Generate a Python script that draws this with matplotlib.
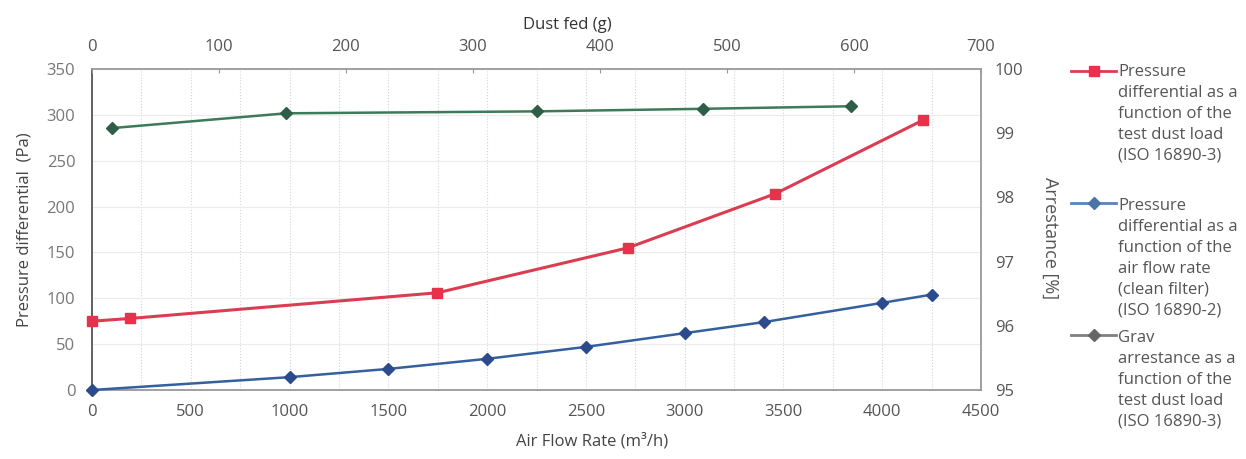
import matplotlib
matplotlib.use("Agg")
import matplotlib.pyplot as plt
from matplotlib.lines import Line2D
from matplotlib.ticker import MultipleLocator

plt.rcParams['font.family'] = ['Open Sans', 'DejaVu Sans']

W, H = 1246, 459

# pressure differential vs test dust load (top axis, left axis)
dust_fed = [0, 30, 272, 422, 538, 654]
dp_dust = [75, 78, 106, 155, 214, 294]

# pressure differential vs air flow rate, clean filter (bottom axis, left axis)
air_flow = [0, 1000, 1500, 2000, 2500, 3000, 3400, 4000, 4250]
dp_flow = [0, 14, 23, 34, 47, 62, 74, 95, 104]

# grav arrestance vs test dust load (top axis, right axis)
dust_grav = [16, 153, 350, 481, 598]
arrestance = [99.08, 99.31, 99.34, 99.38, 99.42]

legend_texts = [
    "Pressure\ndifferential as a\nfunction of the\ntest dust load\n(ISO 16890-3)",
    "Pressure\ndifferential as a\nfunction of the\nair flow rate\n(clean filter)\n(ISO 16890-2)",
    "Grav\narrestance as a\nfunction of the\ntest dust load\n(ISO 16890-3)",
]

RED, RED_M = "#dc3c50", "#e6324a"
BLUE, BLUE_M = "#34609e", "#2b4b8c"
GREEN, GREEN_M = "#3c7a5a", "#2f5e48"


def fx(px):
    return px / W


def fy(py):
    return 1 - py / H


fig = plt.figure(figsize=(W / 100, H / 100), dpi=100)
ax = fig.add_axes([fx(92), fy(390), (981 - 92) / W, (390 - 69) / H])
ax_top = ax.twiny()
ax_r = ax_top.twinx()

ax.set_xlim(0, 4500)
ax.set_ylim(0, 350)
ax_top.set_xlim(0, 700)
ax_r.set_ylim(95, 100)

ax.xaxis.set_major_locator(MultipleLocator(500))
ax.xaxis.set_minor_locator(MultipleLocator(250))
ax.yaxis.set_major_locator(MultipleLocator(50))
ax_top.xaxis.set_major_locator(MultipleLocator(100))
ax_r.yaxis.set_major_locator(MultipleLocator(1))

# faint grid
ax.grid(which='major', axis='y', color='#ececec', lw=0.8)
ax.grid(which='minor', axis='x', color='#d4d4d4', lw=0.8, ls=':')
ax.grid(which='major', axis='x', color='#d4d4d4', lw=0.8, ls=':')
ax.set_axisbelow(True)

# series
ax.plot(air_flow, dp_flow, color=BLUE, lw=1.8, marker='D', ms=6.5,
        mfc=BLUE_M, mec=BLUE_M, clip_on=False, zorder=3)
ax_top.plot(dust_fed, dp_dust, color=RED, lw=2.2, marker='s', ms=7.5,
            mfc=RED_M, mec=RED_M, clip_on=False, zorder=3)
ax_r.plot(dust_grav, arrestance, color=GREEN, lw=1.8, marker='D', ms=6,
          mfc=GREEN_M, mec=GREEN_M, clip_on=False, zorder=3)

# ticks
ax.tick_params(axis='x', which='both', length=0, pad=10, labelsize=12, labelcolor='#555')
ax.tick_params(axis='y', length=0, pad=12, labelsize=12, labelcolor='#777')
ax_top.tick_params(axis='x', length=3, direction='in', color='#999', pad=10,
                   labelsize=12, labelcolor='#555')
ax_r.tick_params(axis='y', length=0, pad=10, labelsize=12, labelcolor='#555')

# spines
for a in (ax_top, ax_r):
    for s in a.spines.values():
        s.set_visible(False)
for name, s in ax.spines.items():
    s.set_color('#555' if name == 'left' else '#999')
    s.set_linewidth(1.3)

# axis titles
fig.text(fx(567), fy(25), "Dust fed (g)", ha='center', va='center',
         fontsize=12, color='#333')
fig.text(fx(592), fy(441), "Air Flow Rate (m³/h)", ha='center', va='center',
         fontsize=12, color='#444')
fig.text(fx(25), fy(230), "Pressure differential  (Pa)", ha='center', va='center',
         rotation=90, fontsize=12, color='#444')
fig.text(fx(1050), fy(238), "Arrestance [%]", ha='center', va='center',
         rotation=270, fontsize=13, color='#555')

# legend, built by hand so the handle sits on the first text line
leg_rows = [
    (71, 64, RED, 's', RED_M, 7.5),
    (203, 198, "#5a84b8", 'D', "#4a73a8", 6),
    (335, 330, "#808080", 'D', "#666666", 6),
]
for (ly, ty, lc, mk, mc, ms), txt in zip(leg_rows, legend_texts):
    fig.add_artist(Line2D([fx(1071), fx(1116)], [fy(ly), fy(ly)],
                          transform=fig.transFigure, color=lc, lw=2))
    fig.add_artist(Line2D([fx(1094)], [fy(ly)], transform=fig.transFigure,
                          marker=mk, ms=ms, mfc=mc, mec=mc, ls='none'))
    fig.text(fx(1118), fy(ty), txt, ha='left', va='top', fontsize=12,
             color='#555', linespacing=1.41)

fig.savefig("out.png", dpi=100)
